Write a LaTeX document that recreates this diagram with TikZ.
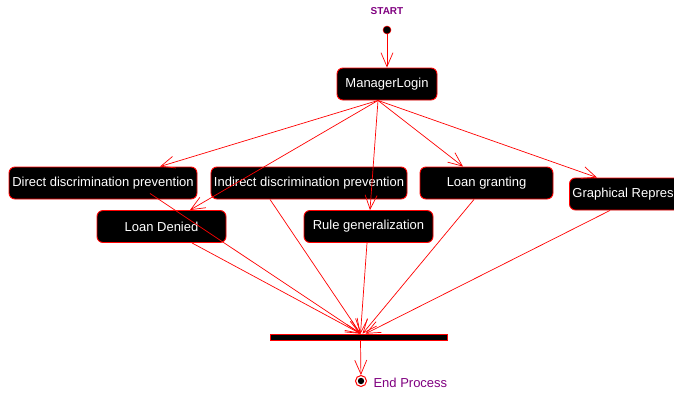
\documentclass[tikz,border=0pt]{standalone}
\usepackage{fontspec}
\setmainfont{Liberation Sans}
\usetikzlibrary{arrows.meta,
	positioning}
\definecolor{umlpurple}{RGB}{128,0,128}
\tikzset{
	activity/.style={draw=red, fill=black, text=white, rounded corners=6pt, line width=0.9pt,
		minimum height=32pt, inner xsep=3pt, font=\fontsize{13}{15}\selectfont},
	flow/.style={red, line width=0.7pt, -{Straight Barb[length=14pt,width=12pt]}},
}

\begin{document}
\begin{tikzpicture}[x=1pt, y=-1pt]
	\clip (0, 0) rectangle (674, 394);
	\node[font=\fontsize{10}{12}\selectfont\bfseries, text=umlpurple] (startlbl) at (387, 11) {START};
	\node[circle, fill=black, draw=red, line width=0.5pt, minimum size=8pt, inner sep=0pt] (start) at (387, 30) {};
	\node[activity, minimum width=100pt] (login) at (387, 84) {ManagerLogin};
	\node[activity, minimum width=188pt] (direct) at (103, 183) {Direct discrimination prevention};
	\node[activity, minimum width=196pt] (indirect) at (309, 183) {Indirect discrimination prevention};
	\node[activity, minimum width=133pt] (granting) at (486.5, 183) {Loan granting};
	\node[activity, anchor=west] (graph) at (569, 194) {Graphical Representation};
	\node[activity, minimum width=129pt] (denied) at (161.5, 226.5) {Loan Denied};
	\node[activity, minimum width=129pt] (rule) at (368.5, 226.5) {Rule generalization};
	\node[draw=red, fill=black, line width=0.6pt, minimum width=177pt, minimum height=6pt, inner sep=0pt] (bar) at (358.5, 337) {};
	\node[circle, draw=red, fill=white, line width=1pt, minimum size=11pt, inner sep=0pt] (finish) at (361, 381) {};
	\fill (finish) circle (3.2);
	\node[anchor=west, text=umlpurple, font=\fontsize{13}{15}\selectfont] (endlbl) at (370, 383) {End Process};
	% fork out of the login
	\coordinate (fork) at ([xshift=-9pt]login.south);
	\draw[flow] (start) -- (login);
	\draw[flow] (fork) -- ([xshift=57pt]direct.north);
	\draw[flow] (fork) -- ([xshift=28.5pt]denied.north);
	\draw[flow] (fork) -- ([xshift=1.5pt]rule.north);
	\draw[flow] (fork) -- ([xshift=-23.5pt]granting.north);
	\draw[flow] (fork) -- ([xshift=28pt]graph.north west);
	% join into the bar
	\coordinate (join) at ([xshift=2pt]bar.north);
	\draw[flow] ([xshift=47pt, yshift=6pt]direct.south) -- (join);
	\draw[flow] ([xshift=30.5pt]denied.south) -- (join);
	\draw[flow] ([xshift=-39pt]indirect.south) -- (join);
	\draw[flow] ([xshift=-1.5pt]rule.south) -- (join);
	\draw[flow] ([xshift=-12.5pt]granting.south) -- ([xshift=2pt]join);
	\draw[flow] ([xshift=41pt]graph.south west) -- ([xshift=5pt]join);
	\draw[flow] ([xshift=2pt]bar.south) -- (finish);
\end{tikzpicture}
\end{document}
